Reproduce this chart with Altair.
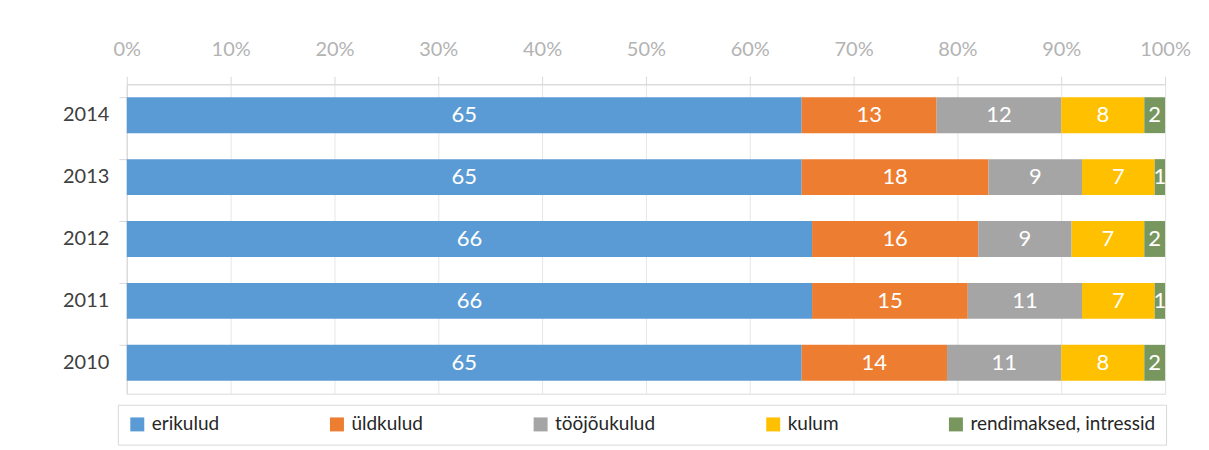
import altair as alt
import pandas as pd

years = ["2014", "2013", "2012", "2011", "2010"]
categories = ["erikulud", "üldkulud", "tööjõukulud", "kulum", "rendimaksed, intressid"]
colors = ["#5B9BD5", "#ED7D31", "#A5A5A5", "#FFC000", "#78975F"]
values = {
    "2014": [65, 13, 12, 8, 2],
    "2013": [65, 18, 9, 7, 1],
    "2012": [66, 16, 9, 7, 2],
    "2011": [66, 15, 11, 7, 1],
    "2010": [65, 14, 11, 8, 2],
}
x_ticks = [0, 10, 20, 30, 40, 50, 60, 70, 80, 90, 100]

rows = []
for y in years:
    for i, c in enumerate(categories):
        rows.append({"year": y, "cat": c, "order": i, "value": values[y][i]})
df = pd.DataFrame(rows)

FONT = "Lato"

base = alt.Chart(df).transform_stack(
    stack="value", groupby=["year"], sort=[alt.SortField("order", order="ascending")],
    as_=["v0", "v1"]
).transform_calculate(mid="(datum.v0 + datum.v1) / 2")

yenc = alt.Y(
    "year:N", sort=years, title=None,
    scale=alt.Scale(paddingInner=0.42, paddingOuter=0.21),
    axis=alt.Axis(
        bandPosition=0, domainColor="#d9d9d9", tickColor="#d9d9d9", tickSize=8,
        labelColor="#404040", labelFontSize=20, labelFont=FONT, labelPadding=10,
        grid=False,
    ),
)

bars = base.mark_bar().encode(
    x=alt.X(
        "v0:Q", title=None,
        scale=alt.Scale(domain=[0, 100], nice=False),
        axis=alt.Axis(
            orient="top", values=x_ticks, labelExpr="datum.value + '%'",
            labelFlush=False,
            domainColor="#d9d9d9", tickColor="#d9d9d9", tickSize=8,
            gridColor="#e6e6e6", labelColor="#b3b3b3", labelFontSize=20,
            labelFont=FONT, labelPadding=17,
        ),
    ),
    x2="v1:Q",
    y=yenc,
    color=alt.Color(
        "cat:N", sort=categories,
        scale=alt.Scale(domain=categories, range=colors),
        legend=alt.Legend(
            title=None, orient="none", direction="horizontal", columns=5,
            legendX=-9, legendY=321, strokeColor="#d9d9d9", fillColor="white",
            padding=10, columnPadding=108, symbolType="square", symbolSize=196,
            symbolStrokeWidth=0, labelFontSize=19, labelFont=FONT,
            labelColor="#262626", labelOffset=5, labelLimit=400,
        ),
    ),
    order=alt.Order("order:Q"),
)

labels = base.mark_text(color="white", fontSize=22, font=FONT).encode(
    x="mid:Q",
    y=alt.Y("year:N", sort=years),
    text="value:Q",
)

chart = (bars + labels).properties(
    width=1040, height=310,
    padding={"left": 54, "top": 31, "right": 10, "bottom": 5},
).configure_view(stroke="#d9d9d9")

chart.save("out.html", embed_options={"renderer": "svg", "actions": False})
